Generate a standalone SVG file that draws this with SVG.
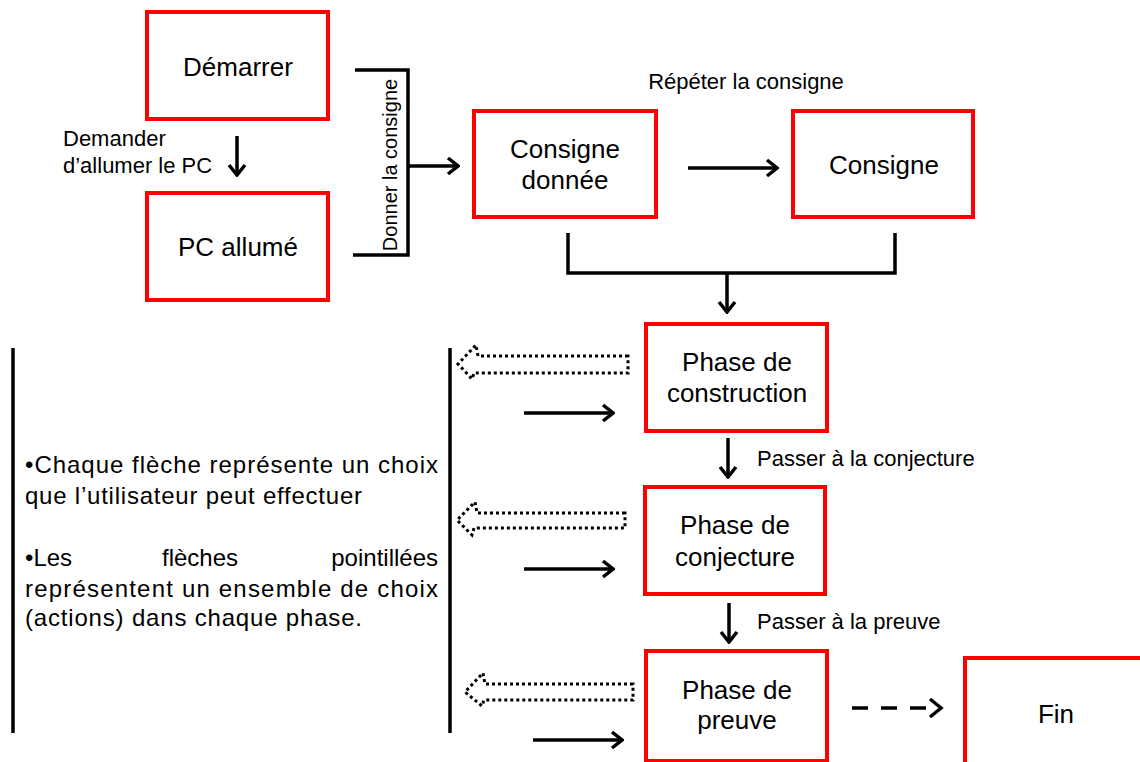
<svg xmlns="http://www.w3.org/2000/svg" width="1140" height="762" viewBox="0 0 1140 762">
<style>
text{font-family:"Liberation Sans",Arial,sans-serif;fill:#000}
.box{fill:#fff;stroke:#ff0000;stroke-width:4}
.lbl{font-size:26px;text-anchor:middle}
.sm{font-size:22px}
.ln{fill:none;stroke:#000;stroke-width:3.5}
.dot{fill:none;stroke:#000;stroke-width:3;stroke-dasharray:3 3}
.body{font-size:24px}
</style>
<defs>
<marker id="ah" markerUnits="userSpaceOnUse" viewBox="0 0 14 20" refX="12" refY="10" markerWidth="14" markerHeight="20" orient="auto">
<path d="M2,2 L12,10 L2,18" fill="none" stroke="#000" stroke-width="3.5" stroke-linejoin="miter"/>
</marker>
</defs>
<rect width="1140" height="762" fill="#fff"/>

<g id="connectors">
<line class="ln" x1="237" y1="136" x2="237" y2="175" marker-end="url(#ah)"/>
<polyline class="ln" points="355,70 408,70 408,255 353,255"/>
<line class="ln" x1="408" y1="166" x2="458" y2="166" marker-end="url(#ah)"/>
<line class="ln" x1="688" y1="168" x2="777" y2="168" marker-end="url(#ah)"/>
<polyline class="ln" points="568,233 568,273 895,273 895,233"/>
<line class="ln" x1="727" y1="273" x2="727" y2="312" marker-end="url(#ah)"/>
<line class="ln" x1="728" y1="438" x2="728" y2="477" marker-end="url(#ah)"/>
<line class="ln" x1="729" y1="603" x2="729" y2="642" marker-end="url(#ah)"/>
<line class="ln" x1="852" y1="708" x2="930" y2="708" stroke-dasharray="16 13"/>
<path d="M930,699 L941,708 L930,717" class="ln"/>
<line class="ln" x1="524" y1="413" x2="613" y2="413" marker-end="url(#ah)"/>
<line class="ln" x1="524" y1="569" x2="613" y2="569" marker-end="url(#ah)"/>
<line class="ln" x1="533" y1="740" x2="622" y2="740" marker-end="url(#ah)"/>
<polygon class="dot" points="628,356 478,356 476,345 458,364 472,379 474,373 628,373"/>
<polygon class="dot" points="625,513 477,513 475,502 457,520 472,535 474,528 625,528"/>
<polygon class="dot" points="633,684 485,684 483,673 465,692 482,706 484,700 633,700"/>
<line class="ln" x1="13" y1="348" x2="13" y2="733" stroke-width="2.5"/>
<line class="ln" x1="450" y1="348" x2="450" y2="733" stroke-width="2.5"/>
</g>

<g id="n-demarrer"><rect class="box" x="147" y="12" width="181" height="107"/><text class="lbl" x="238" y="76">Démarrer</text></g>
<g id="n-pc"><rect class="box" x="147" y="193" width="181" height="107"/><text class="lbl" x="238" y="256">PC allumé</text></g>
<g id="n-consigne-donnee"><rect class="box" x="474" y="111" width="182" height="106"/><text class="lbl" x="565" y="158">Consigne</text><text class="lbl" x="565" y="189">donnée</text></g>
<g id="n-consigne"><rect class="box" x="793" y="111" width="180" height="106"/><text class="lbl" x="884" y="174">Consigne</text></g>
<g id="n-construction"><rect class="box" x="646" y="324" width="181" height="107"/><text class="lbl" x="737" y="371">Phase de</text><text class="lbl" x="737" y="402">construction</text></g>
<g id="n-conjecture"><rect class="box" x="645" y="487" width="180" height="107"/><text class="lbl" x="735" y="534">Phase de</text><text class="lbl" x="735" y="566">conjecture</text></g>
<g id="n-preuve"><rect class="box" x="646" y="651" width="181" height="110"/><text class="lbl" x="737" y="699">Phase de</text><text class="lbl" x="737" y="729">preuve</text></g>
<g id="n-fin"><rect class="box" x="965" y="658" width="190" height="120"/><text class="lbl" x="1056" y="723">Fin</text></g>

<g id="labels">
<text class="sm" x="63" y="146">Demander</text>
<text class="sm" x="63" y="173">d’allumer  le PC</text>
<text x="0" y="0" font-size="20" text-anchor="middle" transform="translate(397,165) rotate(-90)">Donner la consigne</text>
<text class="sm" x="746" y="89" text-anchor="middle">Répéter  la consigne</text>
<text class="sm" x="757" y="466">Passer à la conjecture</text>
<text class="sm" x="757" y="629">Passer à la preuve</text>
</g>

<g id="note" class="body">
<text x="25" y="473" textLength="413" lengthAdjust="spacing">•Chaque flèche représente un choix</text>
<text x="25" y="504" textLength="337" lengthAdjust="spacing">que l’utilisateur peut effectuer</text>
<text x="25" y="566">•Les</text>
<text x="200" y="566" text-anchor="middle">flèches</text>
<text x="438" y="566" text-anchor="end">pointillées</text>
<text x="25" y="597" textLength="413" lengthAdjust="spacing">représentent un ensemble de choix</text>
<text x="25" y="626" textLength="337" lengthAdjust="spacing">(actions) dans chaque phase.</text>
</g>
</svg>
